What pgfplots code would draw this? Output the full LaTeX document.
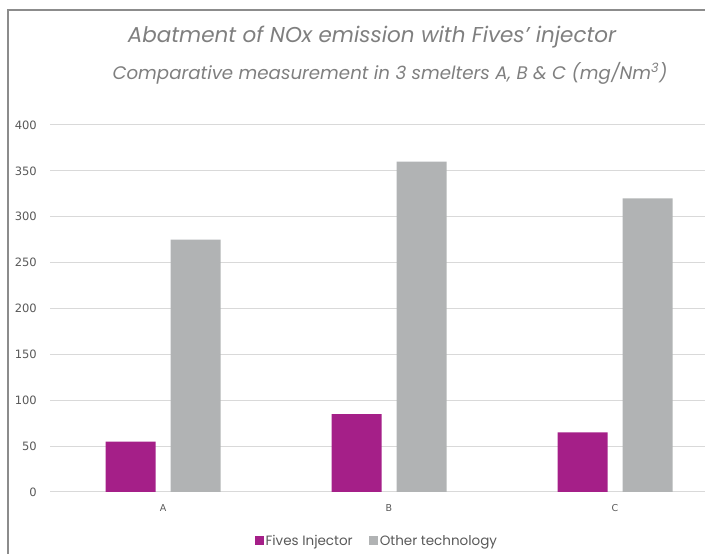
\documentclass[border=0pt]{standalone}
\usepackage{fontspec}
\setmainfont{DejaVu Sans}
\newfontfamily\titlefont{Poppins}
\usepackage{pgfplots}
\pgfplotsset{compat=1.18}
\definecolor{fives}{HTML}{A51F88}
\definecolor{other}{HTML}{B1B3B4}
\definecolor{gridc}{HTML}{D9D9D9}
\definecolor{tickc}{HTML}{595959}
\definecolor{titlec}{HTML}{7F7F7F}
\definecolor{framec}{HTML}{8C8C8C}

\begin{document}
\begin{tikzpicture}[x=1bp,y=1bp]
  \useasboundingbox (0,0) rectangle (705,554);
  % outer frame (only top and left edges visible, the rest is cropped)
  \draw[framec, line width=1.2bp] (8,-5) -- (8,544) -- (712,544);
  \node[titlec, font=\titlefont\itshape\fontsize{21.5bp}{24bp}\selectfont] at (372,517)
    {Abatment of NOx emission with Fives’ injector};
  \node[titlec, font=\titlefont\itshape\fontsize{18.2bp}{21bp}\selectfont] at (390,481)
    {Comparative measurement in 3 smelters A, B \& C (mg/Nm\textsuperscript{3})};
  \begin{axis}[
      at={(50bp,62bp)}, anchor=south west,
      scale only axis, width=678bp, height=367bp,
      xmin=-0.5, xmax=2.5, ymin=0, ymax=400,
      ybar=15bp, bar width=50bp,
      axis line style={draw=none},
      ymajorgrids, grid style={gridc, line width=1bp},
      ytick={0,50,...,400},
      xtick={0,1,2}, xticklabels={A,B,C},
      major tick length=0pt,
      /pgf/number format/assume math mode=true,
      yticklabel style={tickc, font=\fontsize{11.5bp}{13bp}\selectfont, inner sep=0pt, xshift=-13bp},
      xticklabel style={tickc, font=\fontsize{9.5bp}{11bp}\selectfont, inner sep=0pt, yshift=-12bp},
      legend style={at={(0.482,-0.1335)}, anchor=center, draw=none, fill=none,
        legend columns=-1, font=\titlefont\fontsize{13.5bp}{15bp}\selectfont, text=tickc,
        /tikz/every even column/.append style={column sep=14bp}},
      legend image code/.code={\fill[#1] (0bp,-4.5bp) rectangle (9bp,4.5bp);},
    ]
    \addplot[draw=none, fill=fives] coordinates {(0,55) (1,85) (2,65)};
    \addplot[draw=none, fill=other] coordinates {(0,275) (1,360) (2,320)};
    \legend{Fives Injector, Other technology}
  \end{axis}
\end{tikzpicture}
\end{document}
